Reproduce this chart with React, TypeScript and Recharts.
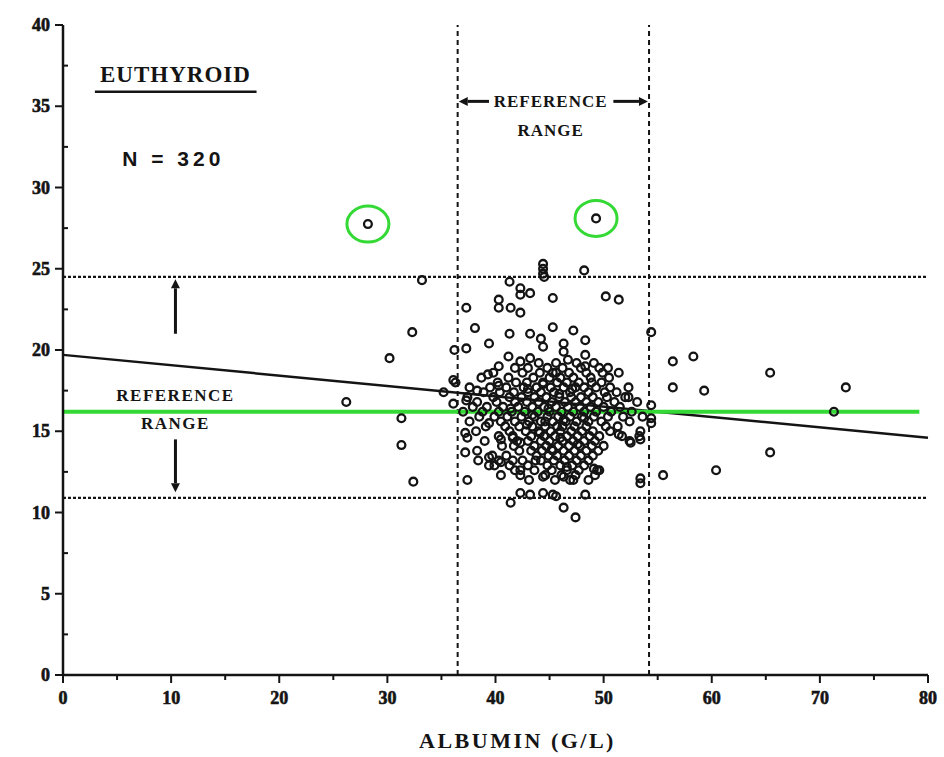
import {
  ReferenceDot,
  ReferenceLine,
  Scatter,
  ScatterChart,
  XAxis,
  YAxis,
} from "recharts";

const xTicks = [0, 5, 10, 15, 20, 25, 30, 35, 40, 45, 50, 55, 60, 65, 70, 75, 80];
const yTicks = [0, 2.5, 5, 7.5, 10, 12.5, 15, 17.5, 20, 22.5, 25, 27.5, 30, 32.5, 35, 37.5, 40];

// [albumin g/L, fT4]
const circled = [
  [28.2, 27.75],
  [49.3, 28.1],
];

const leftOutliers = [
  [26.2, 16.8], [30.2, 19.5], [32.3, 21.1], [33.2, 24.3], [31.3, 15.8],
  [31.3, 14.15], [32.4, 11.9], [35.2, 17.4], [36.1, 18.15], [36.3, 18.0],
  [36.1, 16.7], [37.3, 16.9], [37.2, 14.9], [37.4, 14.6], [37.2, 13.7],
  [37.4, 12.0], [37.3, 22.6], [38.1, 21.35], [37.3, 20.1], [36.2, 20.0],
];

const rightOutliers = [
  [56.4, 19.3], [58.3, 19.6], [56.4, 17.7], [59.3, 17.5], [65.4, 18.6],
  [72.4, 17.7], [71.3, 16.2], [65.4, 13.7], [60.4, 12.6], [55.5, 12.3],
  [54.4, 21.1], [54.4, 16.6], [54.4, 15.8], [54.4, 15.5],
];

const clusterUpper = [
  [44.4, 25.3], [44.4, 25.0], [44.4, 24.7], [44.5, 24.5], [48.2, 24.9],
  [41.3, 24.2], [42.3, 23.8], [42.3, 23.4], [43.2, 23.5], [40.3, 23.1],
  [40.3, 22.6], [41.4, 22.6], [42.3, 22.3], [45.3, 23.2], [50.2, 23.3],
  [51.4, 23.1], [39.4, 20.4], [41.3, 21.0], [43.2, 21.0], [44.2, 20.7],
  [44.4, 20.2], [45.3, 21.4], [47.2, 21.2], [48.3, 20.6], [46.3, 20.4],
  [46.3, 19.9], [46.7, 19.4], [41.2, 19.6], [42.3, 19.3], [43.2, 19.5],
  [40.3, 19.0], [39.3, 18.5], [50.4, 18.9], [51.4, 18.6], [48.3, 19.7],
  [48.3, 19.0], [40.3, 17.8], [38.3, 17.5], [52.3, 17.7], [52.3, 17.1],
];

const clusterCore = [
  [44.0, 19.2], [45.6, 19.2], [47.5, 19.2], [49.1, 19.2],
  [41.8, 18.9], [43.0, 18.9], [44.8, 18.9], [46.2, 18.9], [47.9, 18.9], [49.6, 18.9],
  [39.8, 18.6], [42.5, 18.6], [44.1, 18.6], [45.3, 18.6], [46.8, 18.6], [48.4, 18.6], [49.9, 18.6],
  [38.7, 18.3], [41.2, 18.3], [43.5, 18.3], [45.0, 18.3], [46.0, 18.3], [47.2, 18.3], [48.8, 18.3], [50.5, 18.3],
  [40.2, 18.0], [41.9, 18.0], [42.9, 18.0], [44.4, 18.0], [45.7, 18.0], [46.6, 18.0], [47.7, 18.0], [48.9, 18.0], [49.8, 18.0],
  [37.6, 17.7], [39.5, 17.7], [41.0, 17.7], [42.6, 17.7], [43.8, 17.7], [45.1, 17.7], [46.3, 17.7], [47.4, 17.7], [48.2, 17.7], [49.3, 17.7], [50.6, 17.7],
  [38.9, 17.4], [40.4, 17.4], [41.7, 17.4], [43.0, 17.4], [44.2, 17.4], [45.4, 17.4], [46.9, 17.4], [48.6, 17.4], [50.1, 17.4], [51.2, 17.4],
  [37.4, 17.1], [39.8, 17.1], [41.3, 17.1], [42.4, 17.1], [43.6, 17.1], [44.7, 17.1], [45.9, 17.1], [47.0, 17.1], [47.9, 17.1], [49.0, 17.1], [50.3, 17.1], [52.0, 17.1],
  [38.3, 16.8], [40.1, 16.8], [41.8, 16.8], [42.9, 16.8], [44.0, 16.8], [45.2, 16.8], [46.4, 16.8], [47.4, 16.8], [48.4, 16.8], [49.5, 16.8], [51.0, 16.8], [53.1, 16.8],
  [37.9, 16.5], [39.2, 16.5], [40.7, 16.5], [42.1, 16.5], [43.4, 16.5], [44.5, 16.5], [45.6, 16.5], [46.7, 16.5], [47.8, 16.5], [48.8, 16.5], [50.0, 16.5], [51.5, 16.5],
  [37.0, 16.2], [38.8, 16.2], [40.3, 16.2], [41.5, 16.2], [42.7, 16.2], [43.9, 16.2], [45.0, 16.2], [46.1, 16.2], [47.2, 16.2], [48.2, 16.2], [49.3, 16.2], [50.7, 16.2], [52.6, 16.2],
  [38.5, 15.9], [39.9, 15.9], [41.1, 15.9], [42.4, 15.9], [43.6, 15.9], [44.8, 15.9], [45.8, 15.9], [46.9, 15.9], [48.0, 15.9], [49.1, 15.9], [50.4, 15.9], [51.8, 15.9], [53.6, 15.9],
  [37.6, 15.6], [40.5, 15.6], [41.8, 15.6], [43.1, 15.6], [44.2, 15.6], [45.3, 15.6], [46.5, 15.6], [47.5, 15.6], [48.6, 15.6], [49.8, 15.6], [52.4, 15.6],
  [39.1, 15.3], [40.9, 15.3], [42.2, 15.3], [43.4, 15.3], [44.6, 15.3], [45.7, 15.3], [46.2, 15.3], [47.3, 15.3], [48.4, 15.3], [50.2, 15.3], [51.3, 15.3],
  [38.2, 15.0], [41.3, 15.0], [42.8, 15.0], [44.0, 15.0], [45.1, 15.0], [46.0, 15.0], [47.0, 15.0], [48.0, 15.0], [49.0, 15.0], [50.6, 15.0], [53.4, 15.0],
  [40.3, 14.7], [41.6, 14.7], [43.3, 14.7], [44.5, 14.7], [45.5, 14.7], [46.6, 14.7], [47.6, 14.7], [48.7, 14.7], [49.6, 14.7], [51.7, 14.7], [53.3, 14.7],
  [39.0, 14.4], [42.0, 14.4], [43.0, 14.4], [44.2, 14.4], [45.0, 14.4], [46.2, 14.4], [47.2, 14.4], [48.2, 14.4], [49.2, 14.4], [52.4, 14.4],
  [40.6, 14.1], [41.7, 14.1], [43.6, 14.1], [44.7, 14.1], [45.8, 14.1], [46.8, 14.1], [47.8, 14.1], [48.9, 14.1], [50.0, 14.1],
  [38.3, 13.8], [42.2, 13.8], [43.3, 13.8], [44.3, 13.8], [45.3, 13.8], [46.3, 13.8], [47.3, 13.8], [48.4, 13.8], [49.5, 13.8],
  [39.7, 13.5], [41.0, 13.5], [43.8, 13.5], [44.9, 13.5], [45.7, 13.5], [46.8, 13.5], [47.9, 13.5], [49.0, 13.5],
  [38.4, 13.2], [40.3, 13.2], [42.5, 13.2], [44.2, 13.2], [45.4, 13.2], [46.4, 13.2], [47.5, 13.2], [48.6, 13.2],
  [39.9, 12.9], [41.3, 12.9], [43.0, 12.9], [44.8, 12.9], [46.0, 12.9], [47.1, 12.9], [48.2, 12.9],
  [41.8, 12.6], [43.6, 12.6], [45.2, 12.6], [46.6, 12.6], [47.7, 12.6], [49.6, 12.6],
  [40.5, 12.3], [42.3, 12.3], [44.6, 12.3], [46.1, 12.3], [47.4, 12.3], [49.2, 12.3],
  [43.1, 12.0], [45.5, 12.0], [46.9, 12.0], [48.6, 12.0],
];

const clusterDense = [
  [43.4, 16.0], [44.9, 16.4], [46.3, 15.7], [45.9, 17.3], [44.4, 17.9],
  [42.9, 15.4], [47.6, 14.2], [45.2, 13.9], [43.7, 13.2], [46.6, 12.8],
  [44.1, 14.9], [48.2, 15.8], [41.4, 16.4], [47.1, 17.6], [45.6, 18.6],
  [43.0, 17.6], [46.0, 14.6], [44.6, 15.6],
];

const clusterLower = [
  [39.4, 15.5], [40.5, 14.5], [41.6, 14.6], [42.3, 14.3], [39.4, 13.4],
  [40.5, 13.1], [39.4, 12.9], [41.6, 13.2], [42.3, 12.6], [44.4, 12.2],
  [46.3, 12.2], [47.2, 12.0], [49.4, 12.6], [49.1, 12.7], [51.4, 14.8],
  [52.5, 14.3], [53.4, 14.5], [53.4, 12.1], [53.4, 11.8], [42.3, 11.2],
  [43.2, 11.1], [44.4, 11.2], [45.3, 11.1], [45.6, 11.0], [41.4, 10.6],
  [48.3, 11.1], [46.3, 10.3], [47.4, 9.7],
];

const regression = [
  [0, 19.7],
  [80, 14.6],
];
const meanLine = [
  [0, 16.2],
  [79.2, 16.2],
];
const albuminRange = [36.5, 54.2];
const ft4Range = [10.9, 24.5];

const toPts = (arr: number[][]) => arr.map(([x, y]) => ({ x, y }));
const allPoints = toPts([
  ...circled,
  ...leftOutliers,
  ...rightOutliers,
  ...clusterUpper,
  ...clusterCore,
  ...clusterDense,
  ...clusterLower,
]);

const INK = "#141414";
const GREEN = "#35d935";
const SERIF = "'Liberation Serif', 'DejaVu Serif', serif";

const XTick = (props: any) => {
  const { x, y, payload } = props;
  const major = payload.value % 10 === 0;
  return (
    <g>
      <line x1={x} y1={y} x2={x} y2={y + (major ? 8 : 5)} stroke={INK} strokeWidth={2} />
      {major && (
        <text
          x={x}
          y={y + 23}
          textAnchor="middle"
          dominantBaseline="central"
          fontFamily={SERIF}
          fontWeight="bold"
          fontSize={18}
          stroke={INK}
          strokeWidth={0.6}
          fill={INK}
        >
          {payload.value}
        </text>
      )}
    </g>
  );
};

const YTick = (props: any) => {
  const { x, y, payload } = props;
  const major = payload.value % 5 === 0;
  return (
    <g>
      {major ? (
        <line x1={x - 8} y1={y} x2={x} y2={y} stroke={INK} strokeWidth={2} />
      ) : (
        <line x1={x} y1={y} x2={x + 5} y2={y} stroke={INK} strokeWidth={2} />
      )}
      {major && (
        <text
          x={x - 13}
          y={y}
          textAnchor="end"
          dominantBaseline="central"
          fontFamily={SERIF}
          fontWeight="bold"
          fontSize={18}
          stroke={INK}
          strokeWidth={0.6}
          fill={INK}
        >
          {payload.value}
        </text>
      )}
    </g>
  );
};

const arrowShape = (p: any) => {
  const { x1, y1, x2, y2 } = p;
  const ang = Math.atan2(y2 - y1, x2 - x1);
  const L = 9;
  const W = 4.5;
  const bx = x2 - L * Math.cos(ang);
  const by = y2 - L * Math.sin(ang);
  const ox = -Math.sin(ang) * W;
  const oy = Math.cos(ang) * W;
  return (
    <g>
      <line x1={x1} y1={y1} x2={bx} y2={by} stroke={INK} strokeWidth={3} />
      <polygon points={`${x2},${y2} ${bx + ox},${by + oy} ${bx - ox},${by - oy}`} fill={INK} />
    </g>
  );
};

const arrows = [
  [10.4, 21.0, 10.4, 24.35],
  [10.4, 14.5, 10.4, 11.25],
  [39.4, 35.3, 36.6, 35.3],
  [50.9, 35.3, 54.1, 35.3],
];

const notes = [
  { x: 10.4, y: 36.95, text: "EUTHYROID", size: 23, family: SERIF, spacing: 1 },
  { x: 10.2, y: 31.8, text: "N = 320", size: 21, family: "'Liberation Sans', Arial, sans-serif", spacing: 4 },
  { x: 45.1, y: 35.3, text: "REFERENCE", size: 17, family: SERIF, spacing: 1 },
  { x: 45.1, y: 33.5, text: "RANGE", size: 17, family: SERIF, spacing: 1 },
  { x: 10.4, y: 17.2, text: "REFERENCE", size: 17, family: SERIF, spacing: 1.5 },
  { x: 10.4, y: 15.5, text: "RANGE", size: 17, family: SERIF, spacing: 1.5 },
];

export default function App() {
  return (
    <div style={{ position: "absolute", left: 0, top: 0, background: "#fff" }}>
      <ScatterChart
        width={944}
        height={757}
        margin={{ top: 25, right: 16, bottom: 4, left: 13 }}
      >
        <XAxis
          type="number"
          dataKey="x"
          domain={[0, 80]}
          ticks={xTicks}
          interval={0}
          tick={XTick}
          tickLine={false}
          tickSize={0}
          tickMargin={0}
          height={78}
          axisLine={{ stroke: INK, strokeWidth: 2.5 }}
          label={{
            value: "ALBUMIN (G/L)",
            position: "insideBottom",
            offset: 5,
            dx: 22,
            fontFamily: SERIF,
            fontWeight: "bold",
            fontSize: 22,
            letterSpacing: 2.5,
            fill: INK,
          }}
        />
        <YAxis
          type="number"
          dataKey="y"
          domain={[0, 40]}
          ticks={yTicks}
          interval={0}
          tick={YTick}
          tickLine={false}
          tickSize={0}
          tickMargin={0}
          width={50}
          axisLine={{ stroke: INK, strokeWidth: 2.5 }}
        />

        {albuminRange.map((v) => (
          <ReferenceLine key={`vx-${v}`} x={v} stroke={INK} strokeWidth={2} strokeDasharray="5 4" />
        ))}
        {ft4Range.map((v) => (
          <ReferenceLine key={`hy-${v}`} y={v} stroke={INK} strokeWidth={2.2} strokeDasharray="3 2" />
        ))}

        <Scatter
          data={allPoints}
          isAnimationActive={false}
          shape={(p: any) => (
            <circle cx={p.cx} cy={p.cy} r={3.9} fill="none" stroke={INK} strokeWidth={2.3} />
          )}
        />
        <Scatter
          data={toPts(circled)}
          isAnimationActive={false}
          shape={(p: any) => (
            <ellipse cx={p.cx} cy={p.cy} rx={21} ry={18} fill="none" stroke={GREEN} strokeWidth={3} />
          )}
        />

        <ReferenceLine
          segment={regression.map(([x, y]) => ({ x, y }))}
          stroke={INK}
          strokeWidth={2.5}
        />
        <ReferenceLine
          segment={meanLine.map(([x, y]) => ({ x, y }))}
          stroke={GREEN}
          strokeWidth={4}
        />
        <ReferenceLine
          segment={[
            { x: 2.95, y: 35.9 },
            { x: 17.9, y: 35.9 },
          ]}
          stroke={INK}
          strokeWidth={2.5}
        />

        {arrows.map(([ax1, ay1, ax2, ay2], i) => (
          <ReferenceLine
            key={`arrow-${i}`}
            segment={[
              { x: ax1, y: ay1 },
              { x: ax2, y: ay2 },
            ]}
            shape={arrowShape}
          />
        ))}

        {notes.map((n, i) => (
          <ReferenceDot
            key={`note-${i}`}
            x={n.x}
            y={n.y}
            r={0}
            shape={(p: any) => (
              <text
                x={p.cx}
                y={p.cy}
                textAnchor="middle"
                dominantBaseline="central"
                fontFamily={n.family}
                fontWeight="bold"
                fontSize={n.size}
                letterSpacing={n.spacing}
                fill={INK}
              >
                {n.text}
              </text>
            )}
          />
        ))}
      </ScatterChart>
    </div>
  );
}
